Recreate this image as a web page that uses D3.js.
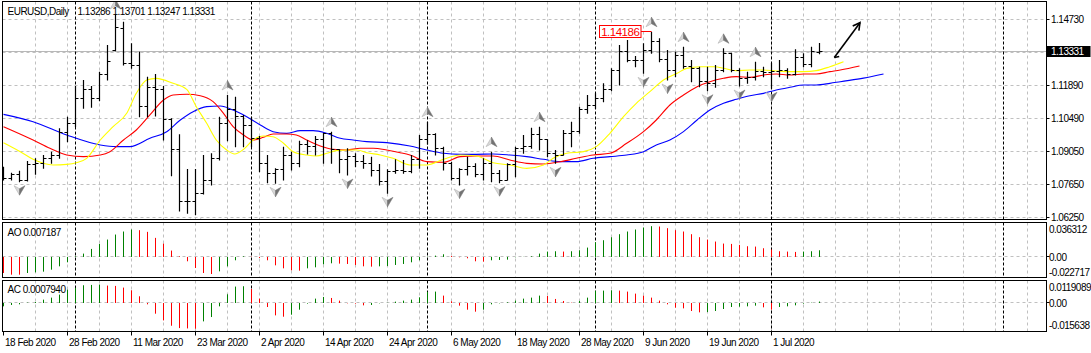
<!DOCTYPE html>
<html><head><meta charset="utf-8">
<script src="https://cdn.jsdelivr.net/npm/d3@7"></script>
<style>
body{margin:0;background:#fff}
svg{display:block}
text{font-family:"Liberation Sans",Arial,sans-serif;font-size:10px;letter-spacing:-0.5px;fill:#000}
</style>
</head><body>
<svg id="c" width="1091" height="353"></svg>
<script>
// ---------------- data ----------------
const symbolTitle = "EURUSD,Daily";
const lastQuote = ["1.13286", "1.13701", "1.13247", "1.13331"];

const open = [1.08330,1.07917,1.08059,1.07845,1.08487,1.08558,1.08772,1.08872,1.09869,1.10240,
1.11323,1.11722,1.11309,1.12378,1.13404,1.14331,1.12834,1.12734,1.10981,1.11808,
1.11722,1.10411,1.09128,1.06919,1.06947,1.07275,1.07845,1.08772,1.10268,1.10839,
1.10553,1.10197,1.09627,1.08558,1.08130,1.08273,1.08914,1.08530,1.09342,1.09299,
1.09556,1.09841,1.09128,1.08701,1.08843,1.08629,1.08558,1.08245,1.07774,1.08202,
1.08245,1.08202,1.08729,1.09556,1.09798,1.09200,1.08558,1.07917,1.08273,1.08416,
1.08059,1.08530,1.08130,1.07845,1.08487,1.09200,1.09271,1.09770,1.09556,1.08986,
1.08914,1.09841,1.09912,1.10839,1.11052,1.11337,1.11694,1.12549,1.13333,1.12934,
1.12934,1.13404,1.13760,1.12977,1.12549,1.13190,1.12691,1.12620,1.12050,1.11979,
1.12549,1.13262,1.12549,1.12193,1.12235,1.12478,1.12435,1.12478,1.12520,1.12378,
1.13091,1.12763,1.13286];
const high = [1.08416,1.08159,1.08245,1.08658,1.08772,1.08914,1.09057,1.10055,1.10553,1.11865,
1.12121,1.11865,1.12478,1.13618,1.14943,1.14616,1.13689,1.13333,1.12264,1.12378,
1.11865,1.10482,1.09798,1.08316,1.08316,1.08914,1.08986,1.10553,1.11480,1.11409,
1.10625,1.10553,1.09727,1.08914,1.08344,1.09271,1.09057,1.09527,1.09556,1.09727,
1.09869,1.09912,1.09157,1.09199,1.08986,1.08914,1.08843,1.08530,1.08302,1.08729,
1.08701,1.08914,1.09770,1.10340,1.09841,1.09271,1.08629,1.08344,1.08843,1.08558,
1.08772,1.09057,1.08273,1.08558,1.09271,1.09770,1.10083,1.10126,1.09585,1.09128,
1.09983,1.10340,1.10981,1.11480,1.11551,1.11979,1.12620,1.13618,1.13832,1.13148,
1.13689,1.14186,1.13903,1.13404,1.13333,1.13547,1.12977,1.12691,1.12691,1.12763,
1.13475,1.13290,1.12620,1.12478,1.12905,1.12691,1.12863,1.12977,1.12620,1.13433,
1.13262,1.13547,1.13701];
const low = [1.07845,1.07845,1.07774,1.07803,1.08088,1.08344,1.08558,1.08772,1.09485,1.10126,
1.10910,1.10953,1.11238,1.12121,1.13376,1.12763,1.12620,1.10553,1.10553,1.10582,
1.09556,1.08031,1.06520,1.06420,1.06360,1.07250,1.07632,1.08701,1.09527,1.09271,
1.09271,1.09271,1.08202,1.07731,1.07703,1.07845,1.08273,1.08416,1.08957,1.08914,
1.08558,1.08558,1.08159,1.08059,1.08416,1.08344,1.08016,1.07632,1.07275,1.08130,
1.08130,1.08159,1.08344,1.09385,1.08914,1.08273,1.07845,1.07632,1.08059,1.07988,
1.07845,1.07774,1.07731,1.07845,1.07988,1.08986,1.09200,1.09128,1.08843,1.08558,
1.08914,1.09271,1.09841,1.10696,1.10910,1.11195,1.11665,1.11908,1.12905,1.12691,
1.12406,1.13262,1.12905,1.12121,1.12264,1.12620,1.12050,1.11836,1.11665,1.11808,
1.12478,1.12478,1.11865,1.11979,1.12121,1.12264,1.11765,1.12264,1.12193,1.12335,
1.12691,1.12691,1.13247];
const close = [1.07917,1.08059,1.07845,1.08487,1.08558,1.08772,1.08872,1.09869,1.10240,1.11323,
1.11722,1.11309,1.12378,1.12905,1.14373,1.12834,1.12734,1.10981,1.11808,1.11722,
1.10411,1.09128,1.06919,1.06947,1.07275,1.07845,1.08772,1.10268,1.10839,1.10553,
1.10197,1.09627,1.08558,1.08130,1.08273,1.08914,1.08530,1.09342,1.09299,1.09556,
1.09841,1.09128,1.08701,1.08843,1.08629,1.08558,1.08245,1.07774,1.08202,1.08245,
1.08202,1.08729,1.09556,1.09798,1.09200,1.08558,1.07917,1.08273,1.08416,1.08059,
1.08530,1.08130,1.07845,1.08487,1.09200,1.09271,1.09770,1.09556,1.08986,1.08914,
1.09841,1.09912,1.10839,1.11052,1.11337,1.11694,1.12549,1.13333,1.12934,1.12934,
1.13404,1.13760,1.12977,1.12549,1.13190,1.12691,1.12620,1.12050,1.11979,1.12549,
1.13262,1.12549,1.12193,1.12235,1.12478,1.12435,1.12478,1.12520,1.12378,1.13091,
1.12763,1.13333,1.13331];

// Alligator lines, sampled (bar index incl. forward shift, price)
const jawBars = [0,3.7,7.9,12.1,14.1,15.8,18.3,20.4,22.1,23.7,25.4,27.1,28.7,30.4,32.1,33.7,35.4,37.1,38.7,40.4,
42.1,43.7,45.4,47.9,50.8,52.9,55.0,57.1,59.1,61.2,63.3,65.4,67.5,69.6,71.6,73.7,75.8,77.9,80.0,81.6,
83.3,85.0,86.7,88.3,90.0,91.6,93.3,95.0,96.6,98.3,100.0,101.6,103.3,104.6,107.5,110];
const jawVals = [1.10653,1.10340,1.09770,1.09342,1.09271,1.09271,1.09627,1.09912,1.10411,1.10767,
1.10981,1.11010,1.10839,1.10553,1.10197,1.09912,1.09841,1.09955,1.09955,1.09841,
1.09627,1.09556,1.09485,1.09442,1.09299,1.09128,1.08986,1.08943,1.08943,1.08957,
1.08914,1.08843,1.08729,1.08629,1.08629,1.08772,1.08843,1.08914,1.09057,1.09342,
1.09556,1.09912,1.10411,1.10839,1.11124,1.11295,1.11451,1.11551,1.11694,1.11808,
1.11908,1.11908,1.11979,1.12050,1.12200,1.12378];
const teethBars = [0,3.7,5.8,7.9,10.0,12.1,13.3,15.0,16.6,18.3,20.0,21.2,22.9,24.6,26.2,27.5,28.7,30.0,31.2,32.5,
33.7,35.4,36.6,37.9,39.6,41.2,42.9,44.6,46.2,47.9,49.6,50.8,52.9,55.0,57.1,59.1,61.2,63.3,65.4,67.5,
69.6,71.6,73.7,75.8,77.9,80.0,81.6,83.3,85.0,86.7,88.3,90.0,91.6,93.3,95.0,96.6,98.3,100.0,101.6,103.3,
104.6,107];
const teethVals = [1.10126,1.09556,1.09200,1.08914,1.08843,1.08914,1.09057,1.09556,1.09983,1.10625,
1.11266,1.11480,1.11509,1.11451,1.11195,1.10696,1.10126,1.09770,1.09556,1.09670,
1.09813,1.09813,1.09770,1.09556,1.09299,1.09157,1.09128,1.09200,1.09200,1.09128,
1.09014,1.08914,1.08629,1.08601,1.08843,1.08872,1.08872,1.08701,1.08558,1.08530,
1.08629,1.08772,1.08914,1.08986,1.09414,1.09912,1.10411,1.11052,1.11480,1.11837,
1.12050,1.12193,1.12264,1.12235,1.12335,1.12378,1.12335,1.12378,1.12378,1.12478,
1.12549,1.12720];
const lipsBars = [0,2.1,3.7,6.2,7.9,9.1,10.4,12.1,13.7,15.4,16.6,17.9,19.1,21.2,22.9,24.1,25.4,26.6,27.9,28.9,
30.0,31.2,32.5,33.7,35.0,36.2,37.9,39.1,40.4,41.6,42.9,44.2,45.4,47.1,48.7,50.8,52.9,55.0,57.1,59.1,
61.2,63.3,65.4,67.5,68.7,70.4,72.5,74.1,75.8,77.5,79.1,80.8,82.5,84.2,85.4,87.1,88.8,90.4,91.6,93.3,
95.0,96.6,98.3,100.0,101.6,103.3,105];
const lipsVals = [1.09442,1.09057,1.08729,1.08487,1.08515,1.08586,1.08772,1.09556,1.10126,1.10696,
1.11551,1.12121,1.12193,1.11979,1.11722,1.10981,1.10268,1.09556,1.09128,1.08957,
1.09157,1.09556,1.09727,1.09698,1.09414,1.09057,1.08914,1.08872,1.08986,1.09100,
1.09128,1.09128,1.09014,1.08914,1.08772,1.08487,1.08487,1.08729,1.08914,1.08872,
1.08586,1.08487,1.08344,1.08487,1.08772,1.08986,1.09057,1.09271,1.09841,1.10553,
1.11124,1.11623,1.12121,1.12407,1.12620,1.12691,1.12691,1.12592,1.12521,1.12549,
1.12549,1.12506,1.12478,1.12478,1.12521,1.12691,1.12905];

// Fractals (bar indices)
const upFractals = [14,28,41,53,61,67,81,85,90,94];
const downFractals = [2,24,34,43,48,57,62,69,80,83,88,92,96];

// Awesome Oscillator
const aoBefore = -0.0170;
const ao = [-0.01733,-0.01913,-0.01915,-0.01733,-0.01661,-0.01588,-0.01372,-0.01011,-0.00578,0.00072,
0.00361,0.00866,0.01408,0.01877,0.02419,0.02744,0.02960,0.02888,0.02708,0.02058,
0.01444,0.00686,0.00072,-0.00469,-0.01191,-0.01733,-0.01841,-0.01552,-0.01011,-0.00361,
0.00072,0.00036,-0.00108,-0.00361,-0.00903,-0.01227,-0.01444,-0.01480,-0.01227,-0.01119,
-0.00794,-0.00686,-0.00722,-0.00758,-0.00866,-0.01011,-0.01047,-0.01011,-0.00975,-0.00866,
-0.00758,-0.00578,-0.00361,0.00036,0.00144,0.00289,0.00108,-0.00036,-0.00144,-0.00469,
-0.00505,-0.00361,-0.00325,-0.00289,-0.00036,0.00018,0.00072,0.00361,0.00578,0.00614,
0.00578,0.00614,0.00722,0.01011,0.01588,0.01805,0.02130,0.02455,0.02744,0.02960,
0.03177,0.03321,0.03285,0.03105,0.02888,0.02744,0.02455,0.02130,0.01877,0.01661,
0.01444,0.01408,0.01300,0.01155,0.01119,0.00939,0.00794,0.00614,0.00578,0.00542,
0.00578,0.00614,0.007187];
const aoMax = 0.036312, aoMin = -0.022717;

// Accelerator Oscillator
const acBefore = -0.0026;
const ac = [-0.00186,-0.00111,-0.00074,0.00019,0.00056,0.00186,0.00297,0.00464,0.00742,0.00835,
0.00983,0.01002,0.01020,0.00965,0.00946,0.00853,0.00705,0.00371,-0.00074,-0.00594,
-0.00965,-0.01261,-0.01391,-0.01410,-0.01428,-0.01020,-0.00779,-0.00186,0.00482,0.00909,
0.00928,0.00779,0.00241,-0.00223,-0.00686,-0.00761,-0.00649,-0.00371,-0.00037,0.00241,
0.00334,0.00278,0.00130,-0.00019,-0.00037,-0.00130,-0.00111,-0.00019,0.00009,0.00074,
0.00130,0.00186,0.00315,0.00612,0.00631,0.00408,0.00093,-0.00148,-0.00371,-0.00482,
-0.00371,-0.00074,-0.00019,0.00037,0.00130,0.00241,0.00297,0.00408,0.00390,0.00223,
0.00111,0.00019,0.00111,0.00297,0.00668,0.00686,0.00705,0.00686,0.00631,0.00519,
0.00408,0.00297,0.00130,-0.00074,-0.00260,-0.00297,-0.00445,-0.00519,-0.00501,-0.00445,
-0.00334,-0.00223,-0.00204,-0.00186,-0.00148,-0.00241,-0.00371,-0.00223,-0.00186,-0.00130,
-0.00037,0.00019,0.000794];
const acMax = 0.0119089, acMin = -0.015638;

// Axes
const priceTicks = [1.14730,1.13310,1.11890,1.10490,1.09050,1.07650,1.06250];
const timeLabelBars = [0,8,16,24,32,40,48,56,64,72,80,88,96];
const timeLabels = ["18 Feb 2020","28 Feb 2020","11 Mar 2020","23 Mar 2020","2 Apr 2020","14 Apr 2020",
"24 Apr 2020","6 May 2020","18 May 2020","28 May 2020","9 Jun 2020","19 Jun 2020","1 Jul 2020"];
const monthStartBars = [9,31,53,74,96,125];
const gridBars = d3.range(4, 130, 4);

// Annotations
const markedBar = 81;
const trendFrom = [103.85, 1.13084];
const trendTo = [107.06, 1.14572];

// ---------------- layout ----------------
const L = 2.5, R = 1046.5;
const mainT = 1.5, mainB = 219.5;
const aoT = 222.5, aoB = 277.5;
const acT = 280.5, acB = 331.5;

const x = d3.scaleLinear().domain([0, 130]).range([3.5, 1043.5]);
const y = d3.scaleLinear().domain([1.06250, 1.14730]).range([217.3, 19]);
const yAO = d3.scaleLinear().domain([aoMin, aoMax]).range([278, 223.3]);
const yAC = d3.scaleLinear().domain([acMin, acMax]).range([331.2, 281.5]);
const px = v => Math.round(v - 0.5) + 0.5;

const svg = d3.select("#c");
svg.append("rect").attr("width", 1091).attr("height", 353).attr("fill", "#fff");

const defs = svg.append("defs");
defs.append("clipPath").attr("id", "clipMain").append("rect")
  .attr("x", L).attr("y", mainT).attr("width", R - L).attr("height", mainB - mainT);

const GRID = "#c0c0c0";

// vertical grid in all panes
[[mainT, mainB], [aoT, aoB], [acT, acB]].forEach(([t, b]) => {
  svg.append("g").selectAll("line").data(gridBars).join("line")
    .attr("x1", d => x(d)).attr("x2", d => x(d)).attr("y1", t).attr("y2", b)
    .attr("stroke", GRID).attr("stroke-dasharray", "3,3");
});

// horizontal grid main
svg.append("g").selectAll("line").data(priceTicks).join("line")
  .attr("x1", L).attr("x2", R).attr("y1", d => px(y(d))).attr("y2", d => px(y(d)))
  .attr("stroke", GRID).attr("stroke-dasharray", "3,3");

// zero lines sub panes
svg.append("line").attr("x1", L).attr("x2", R).attr("y1", px(yAO(0))).attr("y2", px(yAO(0)))
  .attr("stroke", GRID).attr("stroke-dasharray", "3,3");
svg.append("line").attr("x1", L).attr("x2", R).attr("y1", px(yAC(0))).attr("y2", px(yAC(0)))
  .attr("stroke", GRID).attr("stroke-dasharray", "3,3");

// bid line
const lastClose = close[close.length - 1];
svg.append("line").attr("x1", L).attr("x2", R).attr("y1", px(y(lastClose))).attr("y2", px(y(lastClose)))
  .attr("stroke", "#b8b8b8").attr("stroke-width", 1);

// month separators
[[mainT, mainB], [aoT, aoB], [acT, acB]].forEach(([t, b]) => {
  svg.append("g").selectAll("line").data(monthStartBars).join("line")
    .attr("x1", d => x(d)).attr("x2", d => x(d)).attr("y1", t).attr("y2", b)
    .attr("stroke", "#000").attr("stroke-dasharray", "3,2");
});

// main plot content
const gMain = svg.append("g").attr("clip-path", "url(#clipMain)");

// alligator lines
const lineGen = d3.line().x(d => x(d[0])).y(d => y(d[1])).curve(d3.curveMonotoneX);
[[jawBars, jawVals, "#0000ff"], [teethBars, teethVals, "#ff0000"], [lipsBars, lipsVals, "#ffff00"]]
  .forEach(([bs, vs, col]) => {
    gMain.append("path").datum(bs.map((b, i) => [b, vs[i]]))
      .attr("d", lineGen).attr("fill", "none").attr("stroke", col).attr("stroke-width", 1.1);
  });

// OHLC bars
const bars = gMain.append("g").attr("stroke", "#000").attr("stroke-width", 1.2);
open.forEach((o, i) => {
  const cx = x(i);
  bars.append("line").attr("x1", cx).attr("x2", cx).attr("y1", y(high[i])).attr("y2", y(low[i]) + 0.5);
  bars.append("line").attr("x1", cx - 3).attr("x2", cx).attr("y1", px(y(o))).attr("y2", px(y(o)));
  bars.append("line").attr("x1", cx).attr("x2", cx + 3).attr("y1", px(y(close[i]))).attr("y2", px(y(close[i])));
});

// fractals
const fr = gMain.append("g");
function arrow(g, cx, cy, up) {
  const s = up ? 1 : -1;
  const gg = g.append("g").attr("transform", `translate(${cx},${cy})`);
  gg.append("path").attr("d", `M0,${-5*s} L${-5.5},${4.5*s} L0,${1.5*s} Z`).attr("fill", "#d8d8d8")
    .attr("stroke", "#a8a8a8").attr("stroke-width", 0.5);
  gg.append("path").attr("d", `M0,${-5*s} L5.5,${4.5*s} L0,${1.5*s} Z`).attr("fill", "#737373")
    .attr("stroke", "#737373").attr("stroke-width", 0.5);
}
upFractals.forEach(i => arrow(fr, x(i), y(high[i]) - 9.5, true));
downFractals.forEach(i => arrow(fr, x(i), y(low[i]) + 8.5, false));

// marked high label
{
  const bx = x(markedBar), by = px(y(high[markedBar]));
  gMain.append("line").attr("x1", bx - 10.5).attr("x2", bx).attr("y1", by).attr("y2", by)
    .attr("stroke", "#ff0000");
  gMain.append("rect").attr("x", bx - 52).attr("y", by - 6).attr("width", 41.5).attr("height", 12)
    .attr("fill", "#fff").attr("stroke", "#ff0000");
  gMain.append("text").attr("x", bx - 31.25).attr("y", by + 4.2).attr("text-anchor", "middle")
    .style("font-size", "11.5px").style("fill", "#ff0000")
    .text(high[markedBar].toFixed(5));
}

// trend arrow
{
  const x1 = x(trendFrom[0]), y1 = y(trendFrom[1]), x2 = x(trendTo[0]), y2 = y(trendTo[1]);
  const ang = Math.atan2(y2 - y1, x2 - x1);
  const hl = 8, ha = 0.5;
  const g = gMain.append("g").attr("stroke", "#000").attr("stroke-width", 1.6).attr("fill", "none");
  g.append("line").attr("x1", x1).attr("y1", y1).attr("x2", x2).attr("y2", y2);
  g.append("path").attr("d",
    `M${x2 - hl*Math.cos(ang - ha)},${y2 - hl*Math.sin(ang - ha)} L${x2},${y2} L${x2 - hl*Math.cos(ang + ha)},${y2 - hl*Math.sin(ang + ha)}`);
  g.append("path").attr("d",
    `M${x1 + 5*Math.cos(ang + ha + 0.25)},${y1 + 5*Math.sin(ang + ha + 0.25)} L${x1},${y1}`);
}

// AO histogram
const GREEN = "#008000", RED = "#ff0000";
svg.append("g").selectAll("line").data(ao).join("line")
  .attr("x1", (d, i) => x(i)).attr("x2", (d, i) => x(i))
  .attr("y1", yAO(0)).attr("y2", d => yAO(d))
  .attr("stroke-width", 1)
  .attr("stroke", (d, i) => d > (i ? ao[i - 1] : aoBefore) ? GREEN : RED);

// AC histogram
svg.append("g").selectAll("line").data(ac).join("line")
  .attr("x1", (d, i) => x(i)).attr("x2", (d, i) => x(i))
  .attr("y1", yAC(0)).attr("y2", d => yAC(d))
  .attr("stroke-width", 1)
  .attr("stroke", (d, i) => d > (i ? ac[i - 1] : acBefore) ? GREEN : RED);

// pane borders
[[mainT, mainB], [aoT, aoB], [acT, acB]].forEach(([t, b]) => {
  svg.append("rect").attr("x", L).attr("y", t).attr("width", R - L).attr("height", b - t)
    .attr("fill", "none").attr("stroke", "#000");
});

// price axis
const pa = svg.append("g");
priceTicks.forEach(v => {
  const yy = px(y(v));
  pa.append("line").attr("x1", R).attr("x2", R + 3).attr("y1", yy).attr("y2", yy).attr("stroke", "#000");
  pa.append("text").attr("x", 1051).attr("y", yy + 3.6).text(v.toFixed(5));
});
// current price box
{
  const yy = px(y(lastClose));
  pa.append("rect").attr("x", R).attr("y", yy - 5.5).attr("width", 44).attr("height", 11).attr("fill", "#000");
  pa.append("text").attr("x", 1051).attr("y", yy + 3.6).style("fill", "#fff").text(lastClose.toFixed(5));
}

// sub-pane axis labels
function subLabels(scale, max, min) {
  const items = [[scale(max) + 6, max.toString()], [scale(0), "0.00"], [scale(min) - 6, min.toString()]];
  items.forEach(([yy, t]) => {
    svg.append("text").attr("x", 1049).attr("y", yy + 3.6).text(t);
  });
  svg.append("line").attr("x1", R).attr("x2", R + 3).attr("y1", px(scale(0))).attr("y2", px(scale(0))).attr("stroke", "#000");
}
subLabels(yAO, aoMax, aoMin);
subLabels(yAC, acMax, acMin);

// time axis
timeLabelBars.forEach((b, i) => {
  svg.append("line").attr("x1", x(b)).attr("x2", x(b)).attr("y1", acB).attr("y2", acB + 4).attr("stroke", "#000");
  svg.append("text").attr("x", x(b) + 1.5).attr("y", 345.5).text(timeLabels[i]);
});

// titles
svg.append("text").attr("x", 7.5).attr("y", 14.7).text(symbolTitle);
svg.append("text").attr("x", 77.5).attr("y", 14.7).text(lastQuote.join(" "));
svg.append("text").attr("x", 7.5).attr("y", 235.7).text("AO " + ao[ao.length - 1].toFixed(6));
svg.append("text").attr("x", 7.5).attr("y", 293).text("AC " + ac[ac.length - 1].toFixed(7));
</script>
</body></html>
